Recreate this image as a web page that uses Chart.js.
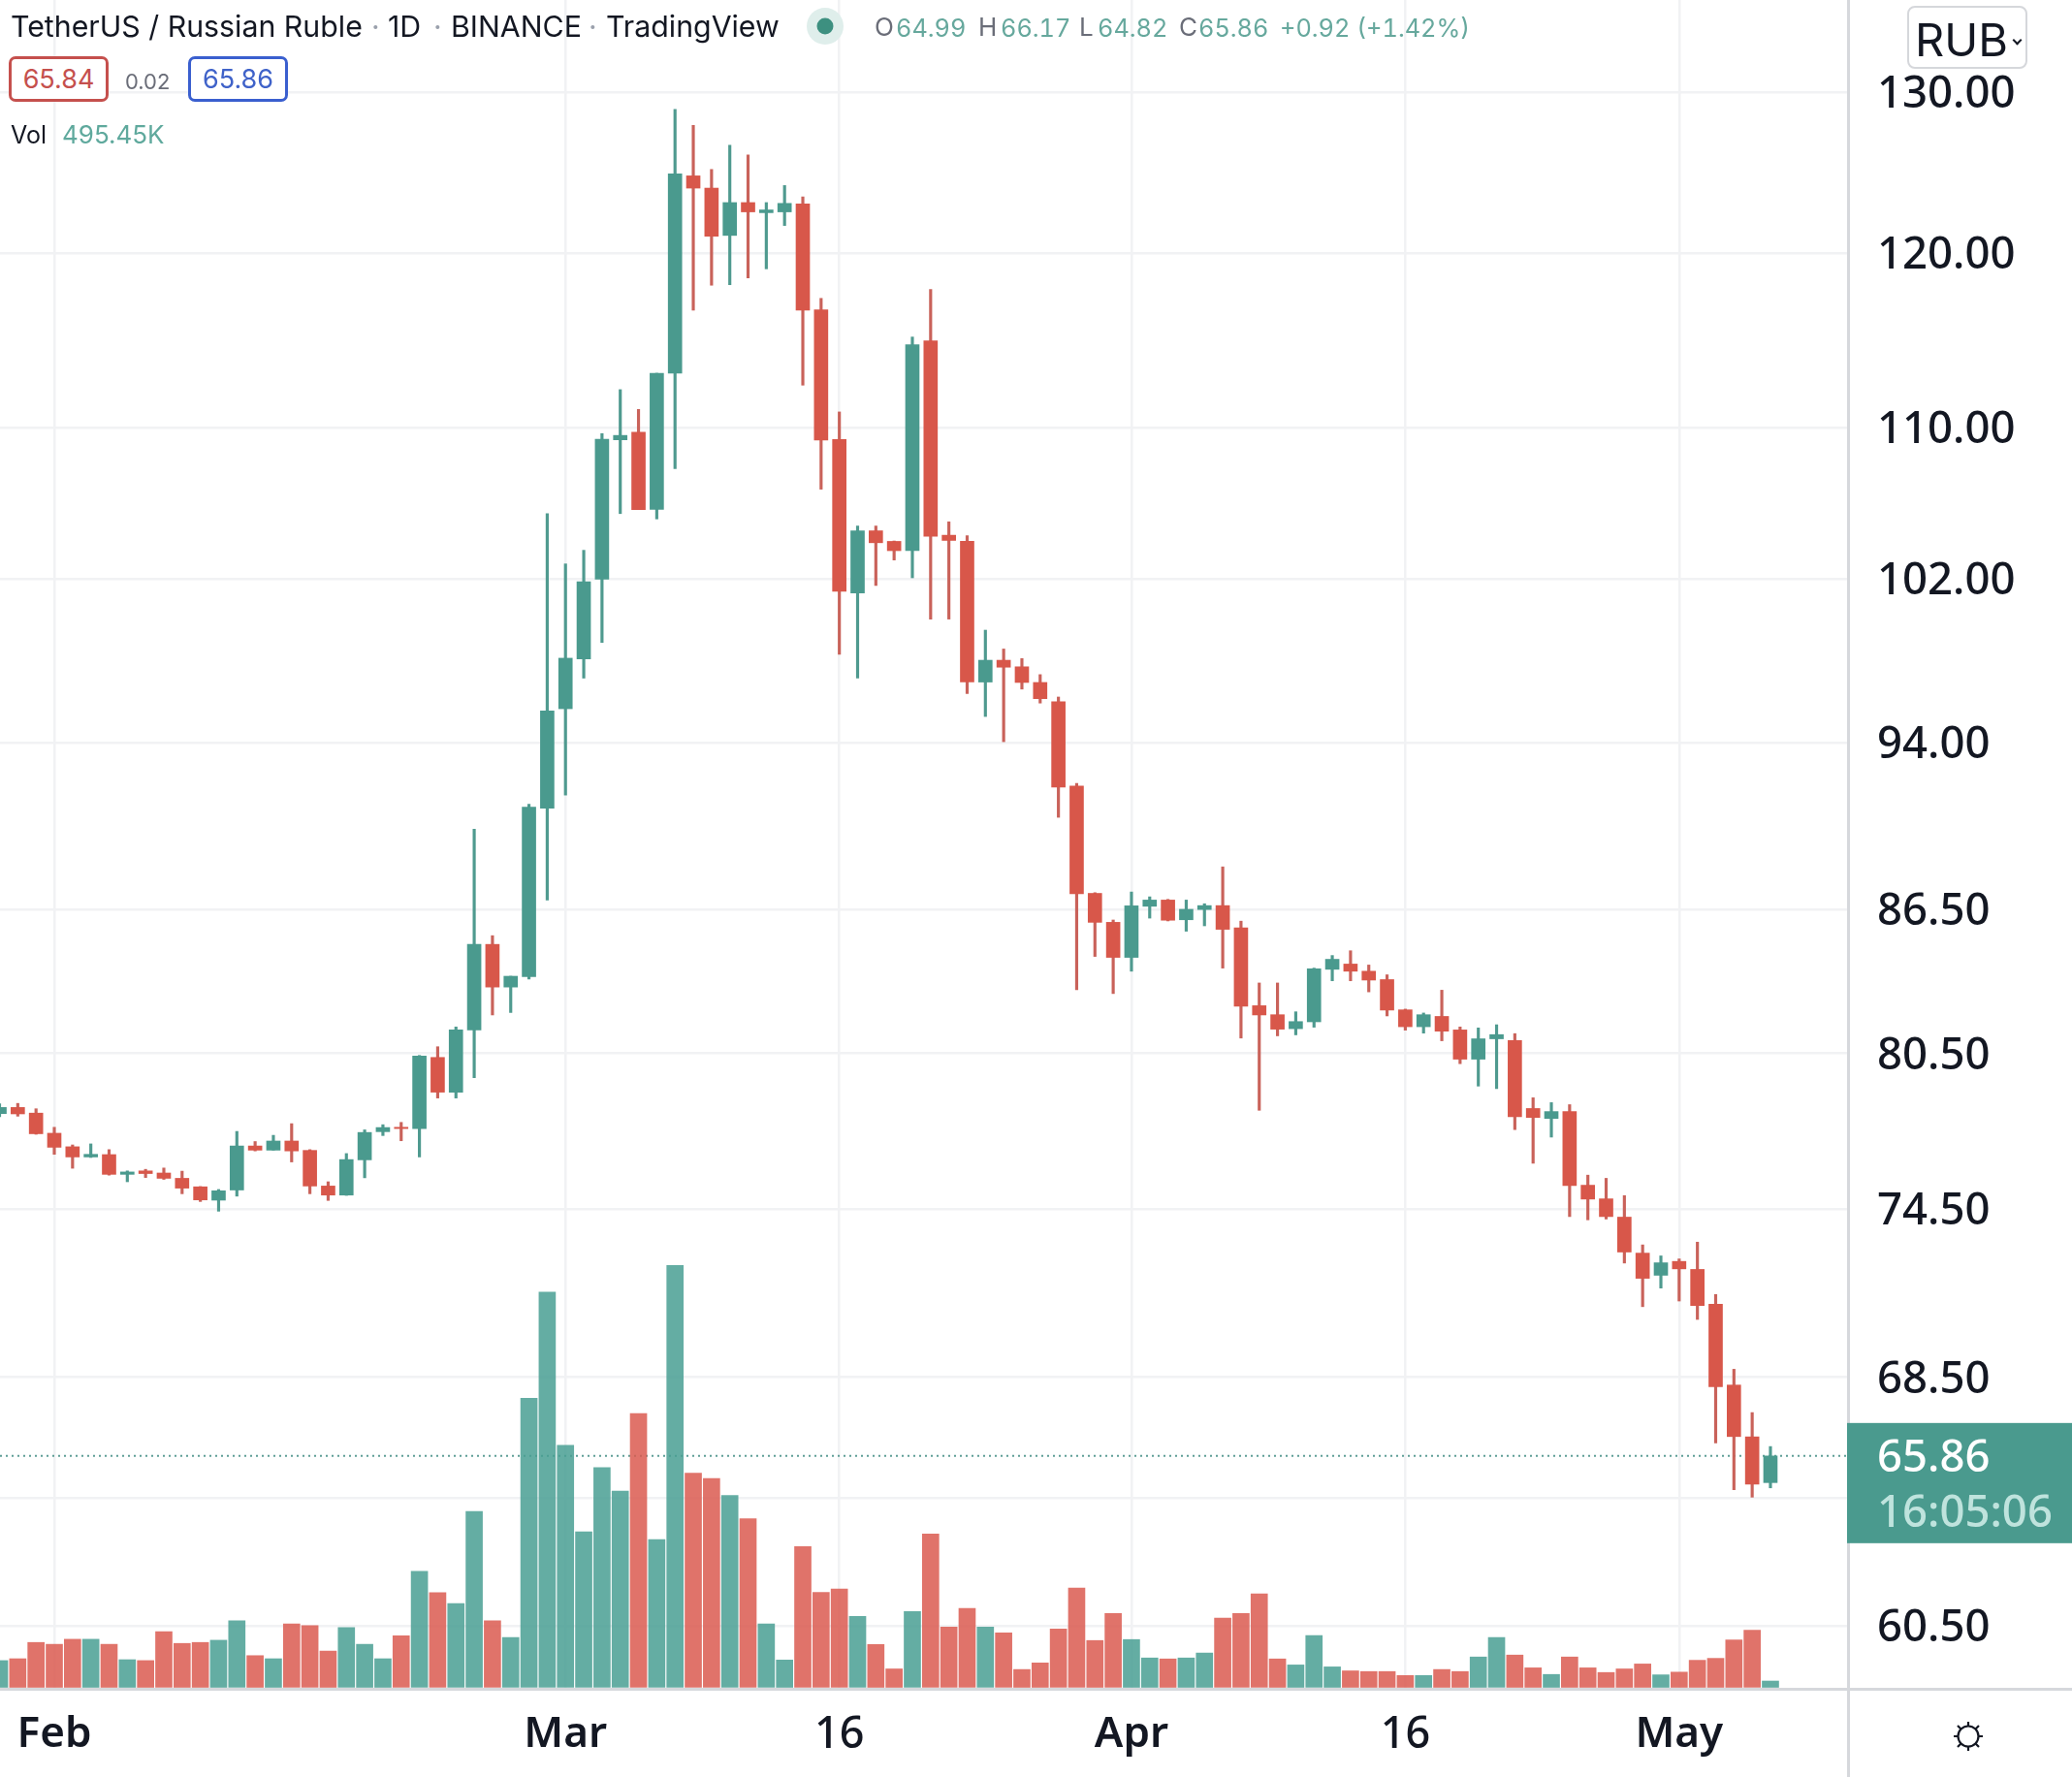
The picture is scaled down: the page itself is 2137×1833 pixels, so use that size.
<!DOCTYPE html>
<html>
<head>
<meta charset="utf-8">
<title>TetherUS / Russian Ruble</title>
<script src="https://cdn.jsdelivr.net/npm/chart.js@4/dist/chart.umd.min.js"></script>
<style>
html, body { margin: 0; padding: 0; background: #fff; overflow: hidden; }
#wrap { position: relative; width: 2137px; height: 1833px; font-family: Inter, sans-serif; }
canvas { position: absolute; left: 0; top: 0; }
.t { position: absolute; white-space: nowrap; line-height: 1; }
.title { font-size: 30.3px; color: #131722; top: 12px; }
.sep { font-size: 30px; color: #9aa0ac; top: 12px; }
.lab { font-size: 26px; color: #6a6d78; top: 15px; }
.val { font-size: 25.3px; color: #66a89d; top: 15.5px; font-feature-settings: 'tnum'; }
.box { position: absolute; top: 58px; height: 47px; box-sizing: border-box; border: 3px solid; border-radius: 7px; font-size: 27px; text-align: center; line-height: 41px; background: #fff; }
#rub { position: absolute; left: 1967px; top: 6px; width: 124px; height: 65px; box-sizing: border-box; border: 2px solid #d5d7db; border-radius: 8px; background: #fff; }
#rub span { position: absolute; left: 6px; top: 9px; font-size: 47px; line-height: 1; color: #131722; }
#rub i { position: absolute; left: 108px; top: 30px; width: 5px; height: 5px; border-right: 2px solid #131722; border-bottom: 2px solid #131722; transform: rotate(45deg); }
</style>
</head>
<body>
<div id="wrap">
  <canvas id="myChart" width="2137" height="1833"></canvas>

  <span class="t title" style="left:11px">TetherUS / Russian Ruble</span>
  <span class="t sep" style="left:383px">·</span>
  <span class="t title" style="left:400px">1D</span>
  <span class="t sep" style="left:447px">·</span>
  <span class="t title" style="left:465px">BINANCE</span>
  <span class="t sep" style="left:607px">·</span>
  <span class="t title" style="left:625px">TradingView</span>

  <svg style="position:absolute;left:832px;top:8px" width="38" height="38">
    <circle cx="19" cy="19" r="19" fill="#dfeeeb"/>
    <circle cx="19" cy="19" r="8.5" fill="#3d9080"/>
  </svg>

  <span class="t lab" style="left:902px">O</span><span class="t val" style="left:924px">64.99</span>
  <span class="t lab" style="left:1009px">H</span><span class="t val" style="left:1032px">66.17</span>
  <span class="t lab" style="left:1113px">L</span><span class="t val" style="left:1132px">64.82</span>
  <span class="t lab" style="left:1216px">C</span><span class="t val" style="left:1236px">65.86</span>
  <span class="t val" style="left:1320px">+0.92 (+1.42%)</span>

  <div class="box" style="left:9px;width:103px;border-color:#c5504d;color:#c5504d">65.84</div>
  <span class="t" style="left:129px;top:73px;font-size:22px;color:#6a6d78">0.02</span>
  <div class="box" style="left:194px;width:103px;border-color:#3a5fcf;color:#3f62c9">65.86</div>

  <span class="t" style="left:11px;top:127px;font-size:25px;color:#131722">Vol</span>
  <span class="t" style="left:64px;top:126px;font-size:26px;color:#5fa99d">495.45K</span>

  <div id="rub"><span>RUB</span><i></i></div>

  <svg style="position:absolute;left:2012px;top:1773px" width="36" height="36" stroke="#131722" stroke-width="2.2" fill="none">
    <circle cx="18" cy="18" r="10.5"/>
    <path d="M18 3v5M18 28v5M3 18h5M28 18h5M7 7l4 4M25 25l4 4M29 7l-4 4M11 25l-4 4"/>
  </svg>
</div>

<script>
// one candle per day, first one is Jan 29
const opens = [78.12,78.36,78.14,77.36,76.84,76.45,76.54,75.79,75.92,75.84,75.64,75.32,74.82,75.2,76.87,76.71,77.06,76.7,75.35,75.01,76.34,77.42,77.59,77.54,80.34,78.96,81.45,85.0,83.21,83.64,90.97,95.6,98.01,101.98,109.32,109.74,105.59,113.01,124.7,123.94,121.05,123.05,122.43,122.48,122.97,116.64,109.34,101.28,104.47,103.92,103.44,114.85,104.24,103.92,96.88,97.94,97.62,96.86,95.93,91.98,87.19,85.94,84.45,86.63,86.9,86.05,86.49,86.66,85.7,82.44,82.07,81.5,81.78,83.95,84.17,83.87,83.52,82.27,81.58,82.0,81.45,80.27,81.09,81.02,78.32,77.93,78.2,75.38,74.87,74.19,72.87,72.07,72.57,72.28,71.04,68.23,66.49,64.99];
const highs = [78.5,78.52,78.31,77.59,76.91,76.95,76.73,75.92,75.98,76.03,75.91,75.33,75.22,77.43,77.04,77.28,77.73,76.73,75.51,76.58,77.49,77.69,77.78,80.42,80.77,81.57,90.02,85.37,83.66,91.15,105.37,102.76,103.46,109.66,112.09,110.99,113.01,128.9,127.88,125.1,126.62,126.0,123.05,124.1,123.4,117.31,110.85,104.72,104.72,103.94,115.07,117.83,104.94,104.22,99.42,98.49,98.02,97.24,96.16,92.1,87.22,86.04,87.25,87.04,86.93,86.9,86.74,88.35,85.99,83.38,83.38,82.19,84.0,84.53,84.73,84.13,83.72,82.3,82.14,83.08,81.57,81.53,81.66,81.3,78.74,78.55,78.47,75.76,75.64,74.99,73.17,72.77,72.66,73.27,71.38,68.77,67.3,66.17];
const lows = [78.0,78.02,77.32,76.55,76.02,76.43,75.76,75.51,75.67,75.6,75.06,74.77,74.41,74.97,76.68,76.71,76.26,75.06,74.81,75.0,75.66,77.27,77.07,76.45,78.73,78.73,79.53,82.06,82.16,83.54,86.9,91.57,97.07,98.81,105.37,105.58,105.09,107.76,116.62,118.08,118.11,118.51,119.05,121.65,112.34,106.66,98.23,97.07,101.66,102.96,102.05,99.97,99.97,96.33,95.23,94.04,96.54,95.87,90.56,83.1,84.49,82.94,83.87,86.12,86.0,85.56,85.79,84.0,81.12,78.25,81.21,81.25,81.56,83.47,83.47,83.01,82.02,81.44,81.32,81.01,80.09,79.2,79.1,77.5,76.21,77.21,74.21,74.09,74.12,72.51,70.95,71.61,71.15,70.5,66.29,64.76,64.52,64.82];
const closes = [78.36,78.11,77.34,76.82,76.45,76.55,75.79,75.88,75.82,75.64,75.27,74.83,75.17,76.87,76.71,77.06,76.68,75.35,75.01,76.35,77.39,77.58,77.54,80.4,78.96,81.45,85.0,83.21,83.66,91.02,95.5,98.04,101.85,109.35,109.56,105.58,113.01,124.83,123.94,121.0,123.05,122.48,122.6,123.0,116.62,109.31,101.37,104.47,103.85,103.44,114.63,104.19,103.97,96.88,97.94,97.6,96.86,96.08,91.93,87.17,85.94,84.45,86.65,86.9,86.03,86.5,86.66,85.64,82.42,82.06,81.48,81.79,83.97,84.37,83.87,83.5,82.26,81.58,82.07,81.4,80.27,81.09,81.26,78.0,77.97,78.2,75.37,74.86,74.21,72.91,71.96,72.52,72.3,70.99,68.17,66.5,64.94,65.86];
// volume in thousands
const volumes = [2103,2248,3528,3383,3780,3780,3383,2172,2103,4382,3452,3528,3703,5235,2492,2248,4991,4846,2850,4702,3383,2248,4061,9121,7445,6591,13823,5235,3917,22730,31067,19027,12222,17275,15423,21519,11613,33162,16840,16406,15088,13259,4976,2149,11064,7468,7727,5570,3368,1448,5959,12055,4740,6195,4740,4275,1402,1920,4587,7803,3680,5806,3757,2309,2233,2309,2697,5441,5806,7338,2233,1760,4069,1608,1295,1242,1242,930,930,1402,1242,2385,3917,2537,1532,1013,2385,1532,1166,1448,1836,983,1196,2126,2278,3726,4496,495];

const priceTicks = [130,120,110,102,94,86.5,80.5,74.5,68.5,64.5,60.5];
const dayTicks = [3,31,46,62,77,92];
const dayLabels = ['Feb','Mar','16','Apr','16','May'];
const lastPrice = 65.86;
const countdown = '16:05:06';

const upColor = '#4a9a8e';
const downColor = '#d8574a';
const upVol = 'rgba(73,159,147,0.85)';
const downVol = 'rgba(219,90,80,0.85)';
const gridColor = '#f1f2f4';
const lineColor = '#d6d8dc';
const tickFont = '"Noto Sans", sans-serif';

const isUp = closes.map((c, i) => c >= opens[i]);

// no room reserved for labels hanging over the plot edges
function noPadding(scale) {
    scale.paddingTop = 0;
    scale.paddingBottom = 0;
    scale.paddingLeft = 0;
    scale.paddingRight = 0;
}

const decorations = {
    id: 'decorations',
    beforeDatasetsDraw(chart) {
        const c = chart.ctx;
        const area = chart.chartArea;
        const y = chart.scales.y.getPixelForValue(lastPrice);
        c.save();
        c.strokeStyle = '#5e9e96';
        c.lineWidth = 2;
        c.setLineDash([2, 4]);
        c.beginPath();
        c.moveTo(area.left, y);
        c.lineTo(area.right, y);
        c.stroke();
        c.restore();
    },
    afterDraw(chart) {
        const c = chart.ctx;
        const area = chart.chartArea;
        const y = chart.scales.y.getPixelForValue(lastPrice);
        c.save();
        c.fillStyle = lineColor;
        c.fillRect(area.right - 1, 0, 3, chart.height);
        c.fillRect(0, area.bottom - 1, chart.width, 3);
        // last price tag
        c.fillStyle = upColor;
        c.fillRect(area.right - 1, y - 34, chart.width - area.right + 1, 124);
        c.textBaseline = 'middle';
        c.font = '500 45.5px ' + tickFont;
        c.fillStyle = '#ffffff';
        c.fillText(lastPrice.toFixed(2), area.right + 30, y + 3);
        c.fillStyle = '#bfe3dd';
        c.fillText(countdown, area.right + 30, y + 60);
        c.restore();
    }
};

const ctx = document.getElementById('myChart').getContext('2d');
const myChart = new Chart(ctx, {
    type: 'bar',
    plugins: [decorations],
    data: {
        datasets: [
            {
                label: 'Body',
                order: 1,
                yAxisID: 'y',
                grouped: false,
                barThickness: 14,
                backgroundColor: isUp.map(u => u ? upColor : downColor),
                data: opens.map((o, i) => ({ x: i, y: [o, closes[i]] }))
            },
            {
                label: 'Wick',
                order: 2,
                yAxisID: 'y',
                grouped: false,
                barThickness: 2.5,
                backgroundColor: isUp.map(u => u ? '#4f9a8f' : '#c9625a'),
                data: lows.map((l, i) => ({ x: i, y: [l, highs[i]] }))
            },
            {
                label: 'Vol',
                order: 3,
                yAxisID: 'v',
                grouped: false,
                barThickness: 17,
                backgroundColor: isUp.map(u => u ? upVol : downVol),
                data: volumes.map((v, i) => ({ x: i, y: v }))
            }
        ]
    },
    options: {
        responsive: false,
        devicePixelRatio: 1,
        animation: false,
        layout: { padding: 0 },
        plugins: {
            legend: { display: false },
            tooltip: { enabled: false }
        },
        scales: {
            x: {
                type: 'linear',
                offset: false,
                min: 0.026,
                max: 101.25,
                afterBuildTicks: scale => { scale.ticks = dayTicks.map(value => ({ value })); },
                afterFit: scale => { scale.height = 91; noPadding(scale); },
                grid: { color: gridColor, lineWidth: 2.5, drawTicks: false, offset: false },
                border: { display: false },
                ticks: {
                    autoSkip: false,
                    maxRotation: 0,
                    padding: 21,
                    color: '#131722',
                    font: c => {
                        const isDay = c.tick && dayLabels[dayTicks.indexOf(c.tick.value)] === '16';
                        return { family: tickFont, size: isDay ? 45 : 44, weight: isDay ? '500' : '600' };
                    },
                    callback: value => dayLabels[dayTicks.indexOf(value)]
                }
            },
            y: {
                type: 'logarithmic',
                position: 'right',
                min: 58.64,
                max: 136.13,
                afterBuildTicks: scale => { scale.ticks = priceTicks.map(value => ({ value })); },
                afterFit: scale => { scale.width = 231; noPadding(scale); },
                grid: { color: gridColor, lineWidth: 2.5, drawTicks: false },
                border: { display: false },
                ticks: {
                    autoSkip: false,
                    padding: 30,
                    labelOffset: 3,
                    color: '#131722',
                    font: { family: tickFont, size: 45.5, weight: '500' },
                    // 64.50 sits behind the price tag
                    callback: value => value === 64.5 ? '' : value.toFixed(2)
                }
            },
            v: {
                display: false,
                min: -114,
                max: 132626
            }
        }
    }
});
</script>
</body>
</html>
